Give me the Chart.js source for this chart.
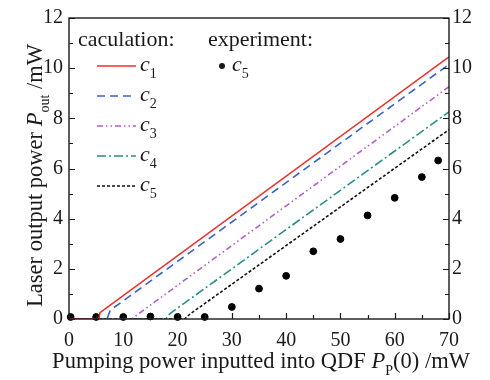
<!DOCTYPE html>
<html>
<head>
<meta charset="utf-8">
<script src="https://cdn.jsdelivr.net/npm/chart.js@4.4.0/dist/chart.umd.min.js"></script>
<style>
  html, body { margin: 0; padding: 0; background: #fff; }
  #wrap { width: 490px; height: 380px; }
</style>
</head>
<body>
<div id="wrap"><canvas id="chart"></canvas></div>
<script>
'use strict';

/* ---- data ---- */
const c1X = [0, 5.5, 5.7, 70],        c1Y = [0, 0, 0.25, 10.45];
const c2X = [0, 7.0, 7.6, 70],        c2Y = [0, 0, 0.35, 10.15];
const c3X = [0, 11.5, 70],            c3Y = [0, 0, 9.26];
const c4X = [0, 17.9, 18.5, 70],      c4Y = [0, 0, 0.2, 8.26];
const c5X = [0, 21.3, 22.3, 70],      c5Y = [0, 0, 0.2, 7.55];
const expX = [0.3, 5, 10, 15, 20, 25, 30, 35, 40, 45, 50, 55, 60, 65, 68];
const expY = [0.08, 0.08, 0.08, 0.1, 0.08, 0.08, 0.48, 1.21, 1.72, 2.70, 3.19, 4.13, 4.83, 5.66, 6.32];

const xRange = [0, 70], yRange = [0, 12];
const calcNames = ['1', '2', '3', '4', '5'];

const FONT = "'Liberation Serif', 'Times New Roman', serif";
const INK  = '#1a1a1a';

const pts = (xs, ys) => xs.map((x, i) => ({ x, y: ys[i] }));

function calcLine(xs, ys, color, dash) {
    return {
        type: 'line', data: pts(xs, ys), borderColor: color, borderWidth: 1.6,
        borderDash: dash, pointRadius: 0, fill: false, tension: 0
    };
}

// draws a run of text parts: {t, it (italic), sub (subscript)}
function drawRich(ctx, parts, x, y, size, align) {
    const fontOf = p => `${p.it ? 'italic ' : ''}${p.sub ? Math.round(size * 0.64) : size}px ${FONT}`;
    let w = 0;
    parts.forEach(p => { ctx.font = fontOf(p); p.w = ctx.measureText(p.t).width; w += p.w; });
    let cx = align === 'center' ? x - w / 2 : x;
    ctx.textBaseline = 'alphabetic';
    ctx.textAlign = 'left';
    parts.forEach(p => {
        ctx.font = fontOf(p);
        ctx.fillText(p.t, cx, y + (p.sub ? size * 0.3 : 0));
        cx += p.w;
    });
}

/* frame, inward ticks, axis titles, legend */
const decor = {
    id: 'decor',
    afterDraw(chart) {
        const { ctx, chartArea: a, scales: { x, y } } = chart;
        ctx.save();
        ctx.strokeStyle = INK;
        ctx.lineWidth = 1.4;
        ctx.strokeRect(a.left, a.top, a.right - a.left, a.bottom - a.top);

        ctx.lineWidth = 1.2;
        ctx.beginPath();
        for (let v = x.min; v <= x.max; v += 5) {
            const px = Math.round(x.getPixelForValue(v)) + 0.5;
            const len = v % 10 === 0 ? 6 : 4;
            ctx.moveTo(px, a.bottom); ctx.lineTo(px, a.bottom - len);
        }
        for (let v = y.min; v <= y.max; v += 1) {
            const py = Math.round(y.getPixelForValue(v)) + 0.5;
            const len = v % 2 === 0 ? 6 : 4;
            ctx.moveTo(a.left, py);  ctx.lineTo(a.left + len, py);
            ctx.moveTo(a.right, py); ctx.lineTo(a.right - len, py);
        }
        ctx.stroke();

        ctx.fillStyle = INK;
        // x title
        drawRich(ctx, [
            { t: 'Pumping power inputted into QDF ' }, { t: 'P', it: true },
            { t: 'P', sub: true }, { t: '(0) /mW' }
        ], (a.left + a.right) / 2 + 2, 368, 22.5, 'center');

        // y title
        ctx.save();
        ctx.translate(42, (a.top + a.bottom) / 2 + 7);
        ctx.rotate(-Math.PI / 2);
        drawRich(ctx, [
            { t: 'Laser output power ' }, { t: 'P', it: true },
            { t: 'out', sub: true }, { t: ' /mW' }
        ], 0, 0, 22.5, 'center');
        ctx.restore();

        // legend
        const L = a.left, T = a.top;
        drawRich(ctx, [{ t: 'caculation:' }], L + 9, T + 28, 22, 'left');
        drawRich(ctx, [{ t: 'experiment:' }], L + 139, T + 28, 22, 'left');
        chart.data.datasets.slice(0, 5).forEach((ds, i) => {
            const ry = T + 48 + i * 30;
            ctx.save();
            ctx.strokeStyle = ds.borderColor;
            ctx.lineWidth = ds.borderWidth;
            ctx.setLineDash(ds.borderDash || []);
            ctx.beginPath(); ctx.moveTo(L + 28, ry); ctx.lineTo(L + 67, ry); ctx.stroke();
            ctx.restore();
            drawRich(ctx, [{ t: 'c', it: true }, { t: calcNames[i], sub: true }], L + 71, ry + 5, 22, 'left');
        });
        const ry = T + 48;
        ctx.beginPath(); ctx.arc(L + 153, ry, 3, 0, Math.PI * 2); ctx.fill();
        drawRich(ctx, [{ t: 'c', it: true }, { t: '5', sub: true }], L + 163, ry + 5, 22, 'left');
        ctx.restore();
    }
};

const tickFont = { family: FONT, size: 20 };

new Chart(document.getElementById('chart'), {
    type: 'scatter',
    data: {
        datasets: [
            calcLine(c1X, c1Y, '#e8322b', []),
            calcLine(c2X, c2Y, '#3b62c4', [8, 5]),
            calcLine(c3X, c3Y, '#b25ec8', [6, 3, 1.5, 3, 1.5, 3]),
            calcLine(c4X, c4Y, '#2b8c8a', [9, 3, 2, 3]),
            calcLine(c5X, c5Y, '#111111', [3, 2]),
            {
                type: 'scatter', data: pts(expX, expY), backgroundColor: '#000',
                borderColor: '#000', pointRadius: 3.4, clip: false
            }
        ]
    },
    options: {
        responsive: true,
        maintainAspectRatio: false,
        animation: false,
        devicePixelRatio: 1,
        layout: { padding: { top: 9, left: 0, right: 0, bottom: 0 } },
        plugins: { legend: { display: false }, tooltip: { enabled: false } },
        scales: {
            x: {
                type: 'linear', min: xRange[0], max: xRange[1],
                ticks: { stepSize: 10, font: tickFont, color: INK, padding: 10, maxRotation: 0 },
                grid: { display: false, drawTicks: false }, border: { display: false },
                afterFit: s => { s.height = 61; }
            },
            y: {
                position: 'left', min: yRange[0], max: yRange[1],
                ticks: { stepSize: 2, font: tickFont, color: INK, padding: 6 },
                grid: { display: false, drawTicks: false }, border: { display: false },
                afterFit: s => { s.width = 69; }
            },
            y2: {
                position: 'right', min: yRange[0], max: yRange[1],
                ticks: { stepSize: 2, font: tickFont, color: INK, padding: 3 },
                grid: { display: false, drawTicks: false }, border: { display: false },
                afterFit: s => { s.width = 41; }
            }
        }
    },
    plugins: [decor]
});
</script>
</body>
</html>
